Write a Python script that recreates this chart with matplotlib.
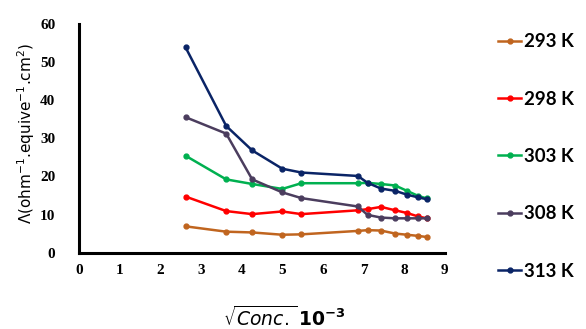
import matplotlib.pyplot as plt

# sqrt(conc) x 10^-3 positions
x = [2.62, 3.62, 4.26, 5.0, 5.47, 6.86, 7.1, 7.43, 7.78, 8.07, 8.34, 8.56]

# equivalent conductance at each temperature
k293 = [6.9, 5.5, 5.3, 4.7, 4.8, 5.7, 5.9, 5.8, 5.0, 4.7, 4.4, 4.1]
k298 = [14.7, 10.9, 10.1, 10.8, 10.1, 11.1, 11.4, 12.0, 11.1, 10.4, 9.5, 9.0]
k303 = [25.4, 19.2, 18.0, 16.7, 18.2, 18.2, 18.3, 18.0, 17.6, 16.2, 14.9, 14.2]
k308 = [35.5, 31.2, 19.2, 15.8, 14.3, 12.1, 9.9, 9.2, 9.0, 9.0, 9.0, 9.0]
k313 = [53.8, 33.2, 26.8, 22.0, 21.0, 20.1, 18.3, 16.8, 16.2, 15.2, 14.5, 14.0]

series = [k293, k298, k303, k308, k313]
labels = ["293 K", "298 K", "303 K", "308 K", "313 K"]
colors = ["#C0651F", "#FF0000", "#00B050", "#4B3D5E", "#0A2466"]

fig = plt.figure(figsize=(5.86, 3.29), dpi=100)
ax = fig.add_axes([0.135, 0.232, 0.624, 0.696])

for y, lab, c in zip(series, labels, colors):
    ax.plot(x, y, color=c, lw=1.8, marker="o", ms=3.5, label=lab)

ax.set_xlim(0, 9)
ax.set_ylim(0, 60)
ax.set_xticks(range(0, 10))
ax.set_yticks(range(0, 61, 10))
for s in ["top", "right"]:
    ax.spines[s].set_visible(False)
for s in ["left", "bottom"]:
    ax.spines[s].set_linewidth(2.2)
ax.tick_params(length=0)
ax.tick_params(axis="x", pad=8)
ax.tick_params(axis="y", pad=17)
for t in ax.get_xticklabels() + ax.get_yticklabels():
    t.set_fontfamily("Liberation Serif")
    t.set_fontweight("bold")
    t.set_fontsize(11)

ax.set_xlabel(r"$\sqrt{\mathbf{\mathit{Conc.}}}\,\mathbf{10^{-3}}$", fontsize=13.5)
ax.xaxis.set_label_coords(0.56, -0.23)
ax.set_ylabel("Λ(ohm$^{-1}$.equive$^{-1}$.cm$^{2}$)", fontsize=11, family="DejaVu Sans")
ax.yaxis.set_label_coords(-0.115, 0.52)

leg = fig.legend(loc="upper left", bbox_to_anchor=(0.821, 0.95), frameon=False,
                 labelspacing=2.15, handlelength=1.25, handletextpad=0.15,
                 prop={"family": "Lato", "weight": "bold", "size": 13.5})

fig.savefig("out.png", dpi=100)
